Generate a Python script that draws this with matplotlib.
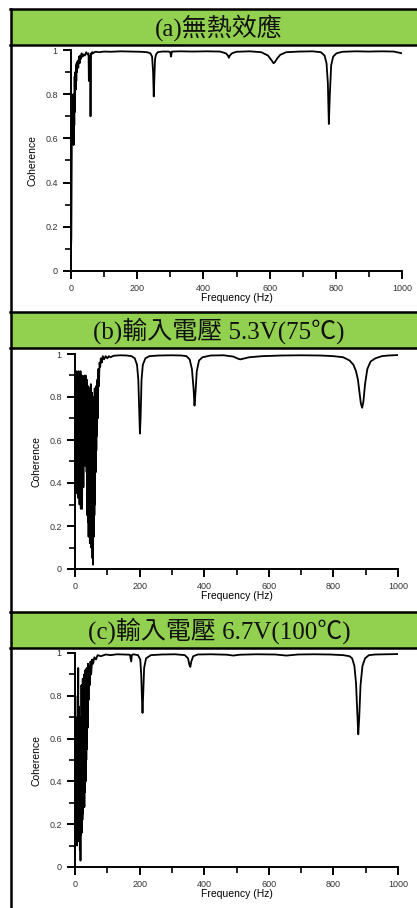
import numpy as np
import matplotlib
matplotlib.use("Agg")
import matplotlib.pyplot as plt
from matplotlib.patches import Rectangle
from matplotlib.lines import Line2D

#########################################################
# DATA
#########################################################

titles = ["(a)無熱效應", "(b)輸入電壓 5.3V(75℃)", "(c)輸入電壓 6.7V(100℃)"]

freq_a = [
    0, 1, 2, 3, 4, 5, 6, 7, 8, 9,
    10, 11, 12, 13, 14, 15, 16, 17, 18, 20,
    22, 24, 26, 28, 30, 32, 35, 38, 42, 46,
    50, 53, 54, 55, 56, 58, 59, 60, 61, 62,
    64, 67, 70, 75, 85, 100, 120, 150, 180, 210,
    230, 240, 245, 248, 250, 252, 254, 257, 262, 275,
    295, 300, 302, 305, 330, 370, 410, 450, 468, 474,
    477, 480, 486, 500, 540, 575, 595, 605, 612, 616,
    622, 632, 650, 690, 730, 755, 766, 772, 776, 779,
    782, 786, 792, 802, 820, 860, 900, 940, 975, 1000]
coh_a = [
    0.10, 0.15, 0.45, 0.72, 0.58, 0.70, 0.62, 0.80, 0.57, 0.76,
    0.66, 0.88, 0.72, 0.90, 0.82, 0.93, 0.86, 0.94, 0.90, 0.95,
    0.92, 0.97, 0.94, 0.975, 0.96, 0.985, 0.97, 0.98, 0.975, 0.99,
    0.98, 0.985, 0.86, 0.97, 0.95, 0.975, 0.70, 0.96, 0.985, 0.98,
    0.99, 0.985, 0.99, 0.992, 0.99, 0.993, 0.992, 0.994, 0.993, 0.992,
    0.99, 0.985, 0.97, 0.90, 0.79, 0.88, 0.96, 0.98, 0.99, 0.993,
    0.993, 0.99, 0.97, 0.993, 0.994, 0.993, 0.994, 0.993, 0.985, 0.975,
    0.965, 0.975, 0.985, 0.992, 0.994, 0.99, 0.975, 0.955, 0.94, 0.945,
    0.96, 0.978, 0.99, 0.993, 0.994, 0.99, 0.975, 0.94, 0.85, 0.665,
    0.80, 0.93, 0.97, 0.985, 0.992, 0.994, 0.993, 0.994, 0.993, 0.985]

freq_b = [
    0, 1, 2, 3, 4, 5, 6, 7, 8, 9,
    10, 11, 12, 13, 14, 15, 16, 17, 18, 19,
    20, 21, 22, 23, 24, 25, 26, 27, 28, 29,
    30, 31, 32, 33, 34, 35, 36, 37, 38, 39,
    40, 41, 42, 43, 44, 45, 46, 47, 48, 49,
    50, 51, 52, 53, 54, 55, 56, 57, 58, 59,
    60, 61, 62, 63, 64, 65, 66, 67, 68, 69,
    70, 72, 74, 76, 78, 80, 83, 86, 90, 95,
    100, 105, 110, 120, 140, 160, 175, 185, 192, 196,
    199, 201, 203, 206, 210, 218, 230, 260, 300, 330,
    345, 355, 362, 367, 370, 373, 377, 384, 395, 420,
    460, 490, 505, 512, 520, 540, 580, 640, 700, 760,
    800, 830, 850, 862, 870, 876, 881, 885, 889, 893,
    898, 905, 915, 930, 950, 970, 1000]
coh_b = [
    0.40, 0.62, 0.35, 0.88, 0.45, 0.92, 0.38, 0.90, 0.50, 0.85,
    0.33, 0.92, 0.40, 0.91, 0.30, 0.88, 0.45, 0.92, 0.28, 0.86,
    0.35, 0.90, 0.28, 0.80, 0.42, 0.88, 0.38, 0.75, 0.50, 0.90,
    0.55, 0.86, 0.48, 0.90, 0.60, 0.82, 0.45, 0.88, 0.25, 0.80,
    0.22, 0.85, 0.15, 0.78, 0.30, 0.84, 0.12, 0.70, 0.40, 0.86,
    0.10, 0.75, 0.18, 0.82, 0.05, 0.68, 0.02, 0.80, 0.15, 0.72,
    0.25, 0.84, 0.30, 0.78, 0.45, 0.85, 0.55, 0.80, 0.62, 0.88,
    0.70, 0.93, 0.85, 0.96, 0.94, 0.98, 0.96, 0.99, 0.975, 0.99,
    0.98, 0.99, 0.985, 0.992, 0.994, 0.993, 0.99, 0.98, 0.95, 0.88,
    0.72, 0.63, 0.70, 0.88, 0.95, 0.98, 0.99, 0.993, 0.994, 0.993,
    0.99, 0.975, 0.93, 0.84, 0.76, 0.82, 0.92, 0.97, 0.985, 0.993,
    0.994, 0.988, 0.978, 0.975, 0.978, 0.985, 0.99, 0.993, 0.994, 0.993,
    0.99, 0.985, 0.97, 0.95, 0.92, 0.88, 0.82, 0.77, 0.75, 0.78,
    0.86, 0.93, 0.965, 0.98, 0.99, 0.993, 0.995]

freq_c = [
    0, 1, 2, 3, 4, 5, 6, 7, 8, 9,
    10, 11, 12, 13, 14, 15, 16, 17, 18, 19,
    20, 21, 22, 23, 24, 25, 26, 27, 28, 29,
    30, 31, 32, 33, 34, 35, 36, 37, 38, 39,
    40, 42, 44, 46, 48, 50, 53, 56, 60, 65,
    70, 80, 95, 110, 130, 150, 170, 174, 176, 180,
    195, 202, 205, 207, 209, 211, 214, 220, 235, 270,
    310, 340, 350, 354, 357, 360, 366, 380, 420, 470,
    490, 510, 560, 620, 655, 690, 740, 790, 830, 850,
    858, 865, 870, 874, 877, 880, 884, 890, 898, 910,
    930, 960, 1000]
coh_c = [
    0.05, 0.80, 0.30, 0.65, 0.15, 0.55, 0.10, 0.70, 0.20, 0.60,
    0.93, 0.25, 0.75, 0.12, 0.60, 0.08, 0.50, 0.03, 0.70, 0.15,
    0.85, 0.16, 0.78, 0.22, 0.88, 0.25, 0.80, 0.30, 0.90, 0.28,
    0.85, 0.35, 0.92, 0.40, 0.88, 0.50, 0.93, 0.55, 0.90, 0.65,
    0.95, 0.78, 0.94, 0.85, 0.96, 0.90, 0.97, 0.95, 0.98, 0.97,
    0.99, 0.985, 0.993, 0.99, 0.994, 0.993, 0.992, 0.96, 0.99, 0.994,
    0.99, 0.97, 0.90, 0.80, 0.72, 0.80, 0.93, 0.975, 0.99, 0.993,
    0.994, 0.99, 0.975, 0.945, 0.935, 0.96, 0.985, 0.993, 0.994, 0.992,
    0.988, 0.992, 0.994, 0.993, 0.988, 0.993, 0.994, 0.993, 0.99, 0.985,
    0.975, 0.94, 0.86, 0.72, 0.62, 0.70, 0.85, 0.94, 0.975, 0.99,
    0.993, 0.994, 0.995]

x_ticks = [0, 200, 400, 600, 800, 1000]
y_ticks = [0, 0.2, 0.4, 0.6, 0.8, 1]
y_ticklabels = ["0", "0.2", "0.4", "0.6", "0.8", "1"]

#########################################################
# LAYOUT (pixel positions of the reference, 417 x 908)
#########################################################
W, H = 417, 908
GREEN = "#92D050"
TITLE_FONT = ["Liberation Serif", "Noto Sans CJK TC", "DejaVu Sans"]

# header rows: (top px, bottom px)
headers = [(9, 45), (312, 348), (612, 648)]
# axes boxes: (left px, right px, top px, bottom px)
boxes = [(71, 402, 50, 271), (75, 398, 354, 569), (75, 398, 653, 867)]

fig = plt.figure(figsize=(W / 100, H / 100), dpi=100)
fig.patch.set_facecolor("white")


def fx(px):
    return px / W


def fy(py):
    return 1 - py / H


# table look: green header rows and black rules
for (top, bot), title in zip(headers, titles):
    fig.add_artist(Rectangle((fx(12), fy(bot)), 1 - fx(12), fy(top) - fy(bot),
                             transform=fig.transFigure, facecolor=GREEN,
                             edgecolor="none", zorder=0))
    for yy in (top, bot):
        fig.add_artist(Line2D([fx(10), 1], [fy(yy), fy(yy)],
                              transform=fig.transFigure, color="black", lw=1.8))
    fig.text(fx(219), fy((top + bot) / 2 + 1), title, ha="center", va="center",
             fontsize=18, family=TITLE_FONT, color="#111111")

fig.add_artist(Line2D([fx(11), fx(11)], [fy(9), 0],
                      transform=fig.transFigure, color="black", lw=1.8))

#########################################################
# PANELS
#########################################################
series = [(freq_a, coh_a), (freq_b, coh_b), (freq_c, coh_c)]

for (left, right, top, bot), (f, c) in zip(boxes, series):
    ax = fig.add_axes([fx(left), fy(bot), fx(right) - fx(left), fy(top) - fy(bot)])
    ax.plot(f, c, color="black", lw=1.3)

    ax.set_xlim(0, 1000)
    ax.set_ylim(0, 1)
    for side in ("top", "right"):
        ax.spines[side].set_visible(False)
    for side in ("left", "bottom"):
        ax.spines[side].set_linewidth(1.4)

    ax.set_xticks(x_ticks)
    ax.set_xticks(np.arange(100, 1000, 200), minor=True)
    ax.set_yticks(y_ticks)
    ax.set_yticklabels(y_ticklabels)
    ax.set_yticks(np.arange(0.1, 1.0, 0.2), minor=True)
    ax.tick_params(which="major", direction="out", length=5.5, width=1.4,
                   labelsize=6.5, pad=4, colors="black")
    ax.tick_params(which="minor", direction="out", length=4, width=1.2)
    for lab in ax.get_xticklabels() + ax.get_yticklabels():
        lab.set_family("Liberation Sans")
        lab.set_color("#333333")

    ax.set_xlabel("Frequency (Hz)", fontsize=7.5, family="Liberation Sans", labelpad=0)
    ax.set_ylabel("Coherence", fontsize=7.5, family="Liberation Sans")
    ax.yaxis.set_label_coords(-34 / (right - left), 0.5)

fig.savefig("out.png", dpi=100, facecolor="white")
